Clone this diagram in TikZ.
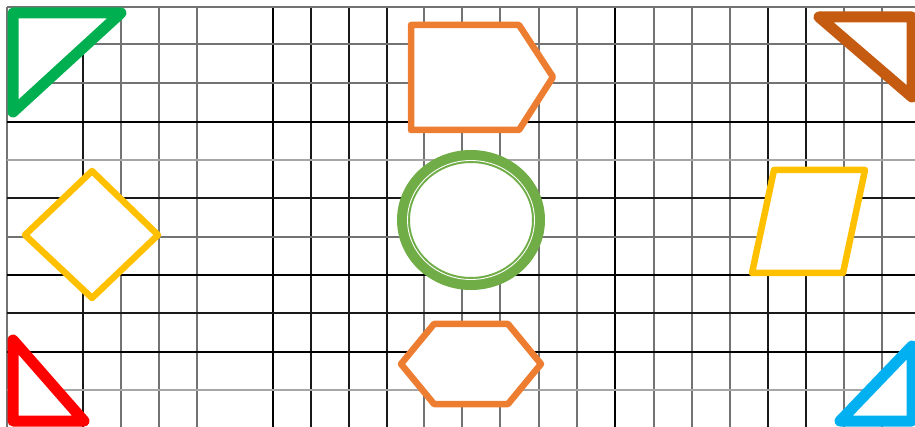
\documentclass[tikz,border=0pt]{standalone}
\definecolor{triGreen}{HTML}{00B050}
\definecolor{triBrown}{HTML}{C55A11}
\definecolor{triRed}{HTML}{FF0000}
\definecolor{triBlue}{HTML}{00B0F0}
\definecolor{shpOrange}{HTML}{ED7D31}
\definecolor{shpYellow}{HTML}{FFC000}
\definecolor{shpGreen}{HTML}{70AD47}
\begin{document}
\begin{tikzpicture}[x=1pt, y=-1pt,
    gridthin/.style={draw=black!55, line width=1.1pt},
    gridlight/.style={draw=black!35, line width=1.1pt},
    griddark/.style={draw=black!90, line width=1.4pt},
    gridthick/.style={draw=black, line width=2.4pt},
    trishape/.style={fill=white, line width=11pt, line join=round},
    polyshape/.style={fill=white, line width=6.5pt, line join=round}]
    \useasboundingbox (0,0) rectangle (915,427);
    \clip (0,0) rectangle (915,427);

    \foreach \x in {7,121,159,197,424,462,500,539,577,654,692,730,844,882}
        \draw[gridthin] (\x,7) -- (\x,427);
    \foreach \x in {83,311,349,387,768,806}
        \draw[griddark] (\x,7) -- (\x,427);
    \foreach \x in {273,615}
        \draw[gridthick] (\x,7) -- (\x,427);
    \foreach \y in {7,44,83,237}
        \draw[gridthin] (7,\y) -- (915,\y);
    \foreach \y in {160,390}
        \draw[gridlight] (7,\y) -- (915,\y);
    \foreach \y in {198,313}
        \draw[griddark] (7,\y) -- (915,\y);
    \foreach \y in {122,275,352}
        \draw[gridthick] (7,\y) -- (915,\y);

    \draw[trishape, draw=triGreen] (13,13) -- (121,13) -- (13,112) -- cycle;
    \draw[trishape, draw=triBrown] (819,17) -- (912,17) -- (912,97) -- cycle;
    \draw[trishape, draw=triRed] (13,340) -- (84,421) -- (13,421) -- cycle;
    \draw[trishape, draw=triBlue] (840,421) -- (912,346) -- (912,421) -- cycle;

    \draw[polyshape, draw=shpOrange] (411,25) -- (519,25) -- (553,77) -- (519,130) -- (411,130) -- cycle;
    \draw[polyshape, draw=shpOrange] (401,364) -- (434,324) -- (508,324) -- (541,364) -- (508,404) -- (434,404) -- cycle;
    \draw[polyshape, draw=shpYellow] (92,171) -- (158,235) -- (92,298) -- (25,235) -- cycle;
    \draw[polyshape, draw=shpYellow] (774,170) -- (865,170) -- (843,273) -- (752,273) -- cycle;

    \draw[fill=white, draw=shpGreen, line width=13pt] (471,220) ellipse [x radius=67.5, y radius=63.5];
    \draw[draw=white, line width=0.9pt] (471,220) ellipse [x radius=63.5, y radius=59.5];
\end{tikzpicture}
\end{document}
